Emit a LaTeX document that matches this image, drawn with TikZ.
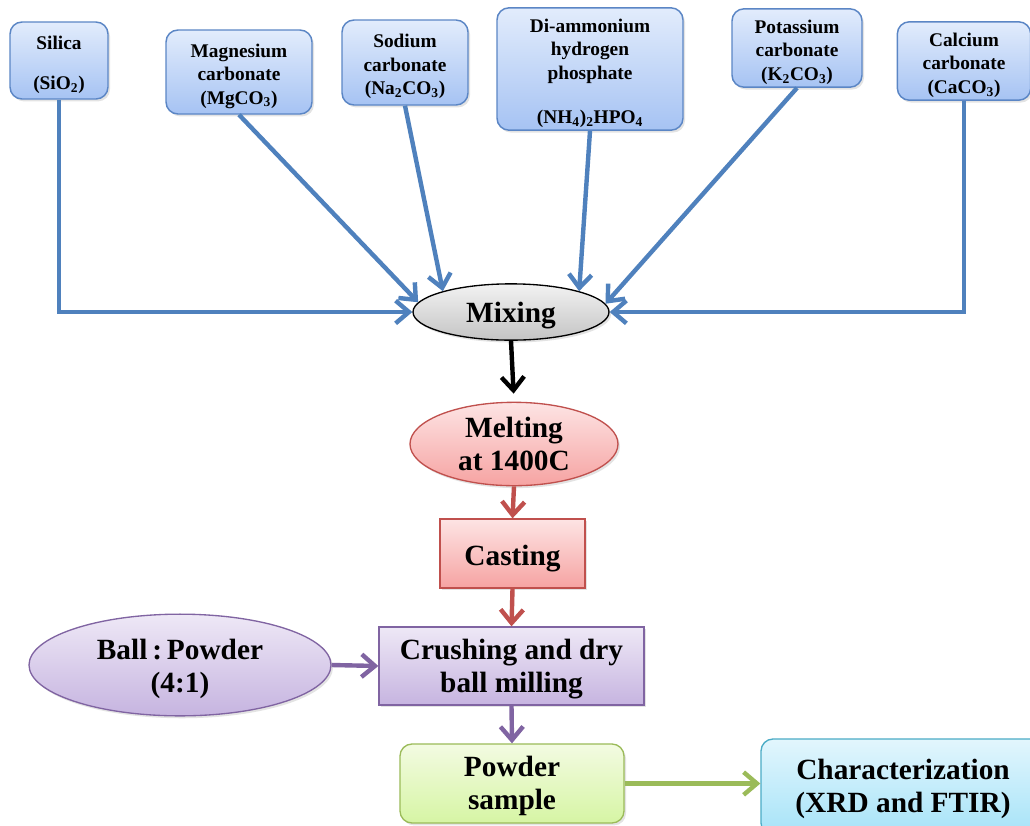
\documentclass[tikz,border=0pt]{standalone}
\usepackage{fontspec}
\setmainfont{Liberation Serif}
\usetikzlibrary{arrows.meta,shapes.geometric,shadows}
\newcommand\dnstrut[1]{\rule{0pt}{#1}}
\definecolor{bluLine}{HTML}{5B86C5}
\definecolor{bluTop}{HTML}{E2ECFC}
\definecolor{bluBot}{HTML}{A6C3F3}
\definecolor{arrBlue}{HTML}{4F81BD}
\definecolor{redLine}{HTML}{C0504D}
\definecolor{redTop}{HTML}{FDE4E4}
\definecolor{redBot}{HTML}{F6A3A2}
\definecolor{purLine}{HTML}{8064A2}
\definecolor{purTop}{HTML}{EEE8F6}
\definecolor{purBot}{HTML}{C6B4E0}
\definecolor{grnLine}{HTML}{9BBB59}
\definecolor{grnTop}{HTML}{F3FBE2}
\definecolor{grnBot}{HTML}{D6F5A4}
\definecolor{cyaLine}{HTML}{4BACC6}
\definecolor{cyaTop}{HTML}{E2F6FD}
\definecolor{cyaBot}{HTML}{A6E3F8}
\definecolor{gryTop}{HTML}{F2F2F2}
\definecolor{gryBot}{HTML}{C4C4C4}
\tikzset{
  shad/.style={drop shadow={opacity=0.22,shadow xshift=1.5pt,shadow yshift=-1.8pt}},
  topbox/.style={draw=bluLine, line width=1.1pt, rounded corners=9pt, top color=bluTop, bottom color=bluBot,
    align=center, inner sep=2pt, font=\fontsize{14.5}{17.6}\selectfont\bfseries, shad},
  bigtext/.style={align=center, inner sep=2pt, font=\fontsize{22}{24.75}\selectfont\bfseries},
  tip/.style={-{Straight Barb[length=10pt,width=17pt]}},
  barrow/.style={draw=arrBlue, line width=3.3pt, tip},
  karrow/.style={draw=black, line width=3.3pt, tip},
  rarrow/.style={draw=redLine, line width=3.3pt, tip},
  parrow/.style={draw=purLine, line width=3.3pt, tip},
  garrow/.style={draw=grnLine, line width=3.3pt, tip},
}
\begin{document}
\begin{tikzpicture}[x=0.75pt,y=-0.75pt]
\useasboundingbox (0,0) rectangle (1030,825);
\fill[white] (0,0) rectangle (1030,825);
\clip (0,0) rectangle (1030,825);

% top material boxes
\node[topbox, minimum width=73.5pt, minimum height=57.75pt] (silica) at (59,60.5)
  {\dnstrut{16.5pt}Silica\\[13pt](SiO\textsubscript{2})};
\node[topbox, minimum width=109.5pt, minimum height=63pt] (mg) at (239,72)
  {\dnstrut{16pt}Magnesium\\carbonate\\(MgCO\textsubscript{3})};
\node[topbox, minimum width=94.5pt, minimum height=63.75pt] (na) at (405,62.5)
  {\dnstrut{16pt}Sodium\\carbonate\\(Na\textsubscript{2}CO\textsubscript{3})};
\node[topbox, minimum width=139.5pt, minimum height=88.5pt] (dap) at (590,69)
  {\dnstrut{16.5pt}Di-ammonium\\hydrogen\\phosphate\\[15.4pt](NH\textsubscript{4})\textsubscript{2}HPO\textsubscript{4}};
\node[topbox, minimum width=97.5pt, minimum height=57pt] (k) at (797,48)
  {\dnstrut{16.5pt}Potassium\\carbonate\\(K\textsubscript{2}CO\textsubscript{3})};
\node[topbox, minimum width=100pt, minimum height=57pt] (ca) at (964,61)
  {\dnstrut{16.5pt}Calcium\\carbonate\\(CaCO\textsubscript{3})};

% process nodes
\node[ellipse, draw=black, line width=1pt, top color=gryTop, bottom color=gryBot, shad,
  minimum width=147pt, minimum height=41.5pt, inner sep=0pt, bigtext] (mixing) at (511,312) {\dnstrut{21pt}Mixing};
\node[ellipse, draw=redLine, line width=1pt, top color=redTop, bottom color=redBot, shad,
  minimum width=156pt, minimum height=51pt, inner sep=0pt, bigtext] (melting) at (514,444) {Melting\\at 1400C};
\node[rectangle, draw=redLine, line width=1pt, top color=redTop, bottom color=redBot, shad,
  minimum width=108.75pt, minimum height=51.75pt, bigtext] (casting) at (512.5,553.5) {\dnstrut{23pt}Casting};
\node[rectangle, draw=purLine, line width=1pt, top color=purTop, bottom color=purBot, shad,
  minimum width=198.75pt, minimum height=58.5pt, bigtext] (crushing) at (511.5,666) {\dnstrut{20.5pt}Crushing and dry\\ball milling};
\node[ellipse, draw=purLine, line width=1pt, top color=purTop, bottom color=purBot, shad,
  minimum width=226.5pt, minimum height=72pt, inner sep=0pt, bigtext] (ball) at (180,665) {\dnstrut{20.5pt}Ball\,:\,Powder\\(4:1)};
\node[rectangle, rounded corners=9pt, draw=grnLine, line width=1pt, top color=grnTop, bottom color=grnBot, shad,
  minimum width=168pt, minimum height=59.25pt, bigtext] (powder) at (512,783.5) {\dnstrut{19.5pt}Powder\\sample};
\node[rectangle, rounded corners=9pt, draw=cyaLine, line width=1pt, top color=cyaTop, bottom color=cyaBot, shad,
  minimum width=213pt, minimum height=72pt, bigtext] (char) at (903,787) {\dnstrut{17.5pt}Characterization\\(XRD and FTIR)};

% blue connectors
\draw[barrow] (silica.south) |- (mixing.west);
\draw[barrow] (mg.south) -- (mixing.174.5);
\draw[barrow] (na.south) -- (mixing.163);
\draw[barrow] (dap.south) -- (mixing.17);
\draw[barrow] (k.south) -- (mixing.5);
\draw[barrow] (ca.south) |- (mixing.east);

% process flow
\draw[karrow, shorten >=6pt] (mixing.south) -- (melting.north);
\draw[rarrow] (melting.south) -- (casting.north);
\draw[rarrow] (casting.south) -- (crushing.north);
\draw[parrow] (ball.east) -- (crushing.west);
\draw[parrow] (crushing.south) -- (powder.north);
\draw[garrow] (powder.east) -- (powder.east -| char.west);
\end{tikzpicture}
\end{document}
